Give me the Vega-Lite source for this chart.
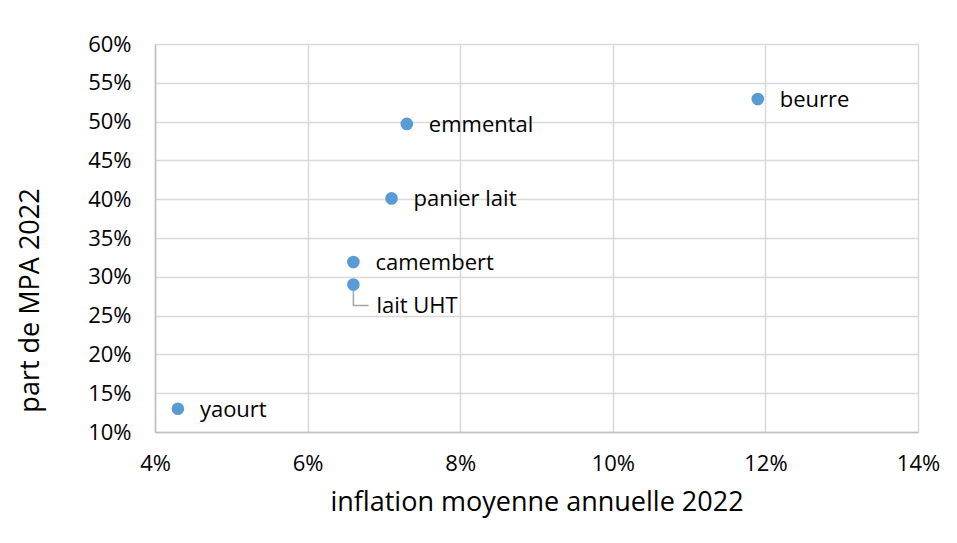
{
  "$schema": "https://vega.github.io/schema/vega-lite/v6.json",
  "width": 763,
  "height": 388,
  "autosize": "none",
  "padding": {"left": 155, "top": 44, "right": 39, "bottom": 111},
  "background": "white",
  "config": {
    "font": "Open Sans",
    "view": {"stroke": null},
    "axis": {
      "labelFont": "Open Sans",
      "titleFont": "Open Sans",
      "labelFontSize": 22,
      "titleFontSize": 27,
      "labelColor": "#000000",
      "titleColor": "#000000",
      "titleFontWeight": "normal",
      "gridColor": "#d9d9d9",
      "gridWidth": 1.5,
      "domainColor": "#bfbfbf",
      "domainWidth": 1.5,
      "ticks": false,
      "labelOverlap": false,
      "labelFlush": false
    }
  },
  "datasets": {
    "points": [
      {"produit": "yaourt", "inflation": 0.043, "part": 0.13},
      {"produit": "lait UHT", "inflation": 0.066, "part": 0.29},
      {"produit": "camembert", "inflation": 0.066, "part": 0.319},
      {"produit": "panier lait", "inflation": 0.071, "part": 0.401},
      {"produit": "emmental", "inflation": 0.073, "part": 0.497},
      {"produit": "beurre", "inflation": 0.119, "part": 0.529}
    ],
    "leader": [
      {"inflation": 0.066, "part": 0.29, "ord": 1},
      {"inflation": 0.066, "part": 0.263, "ord": 2},
      {"inflation": 0.068, "part": 0.263, "ord": 3}
    ]
  },
  "encoding": {
    "x": {
      "field": "inflation",
      "type": "quantitative",
      "scale": {"domain": [0.04, 0.14], "nice": false, "zero": false},
      "axis": {
        "values": [0.04, 0.06, 0.08, 0.10, 0.12, 0.14],
        "format": ".0%",
        "title": "inflation moyenne annuelle 2022",
        "labelPadding": 21,
        "titlePadding": 15,
        "labelOverlap": false
      }
    },
    "y": {
      "field": "part",
      "type": "quantitative",
      "scale": {"domain": [0.10, 0.60], "nice": false, "zero": false},
      "axis": {
        "values": [0.10, 0.15, 0.20, 0.25, 0.30, 0.35, 0.40, 0.45, 0.50, 0.55, 0.60],
        "format": ".0%",
        "title": "part de MPA 2022",
        "labelPadding": 24,
        "labelOverlap": false,
        "titleX": -111,
        "titleY": 256
      }
    }
  },
  "layer": [
    {
      "data": {"name": "leader"},
      "mark": {"type": "line", "color": "#a6a6a6", "strokeWidth": 1.5},
      "encoding": {
        "order": {"field": "ord"}
      }
    },
    {
      "data": {"name": "points"},
      "mark": {"type": "circle", "color": "#5b9bd5", "opacity": 1, "size": 160}
    },
    {
      "data": {"name": "points"},
      "transform": [{"filter": "datum.produit !== 'lait UHT'"}],
      "mark": {"type": "text", "align": "left", "baseline": "middle", "dx": 22, "dy": 1, "fontSize": 22, "font": "Open Sans", "color": "#000000"},
      "encoding": {
        "text": {"field": "produit"}
      }
    },
    {
      "data": {"name": "points"},
      "transform": [{"filter": "datum.produit === 'lait UHT'"}],
      "mark": {"type": "text", "align": "left", "baseline": "middle", "dx": 23, "dy": 21, "fontSize": 22, "font": "Open Sans", "color": "#000000"},
      "encoding": {
        "text": {"field": "produit"}
      }
    }
  ]
}
